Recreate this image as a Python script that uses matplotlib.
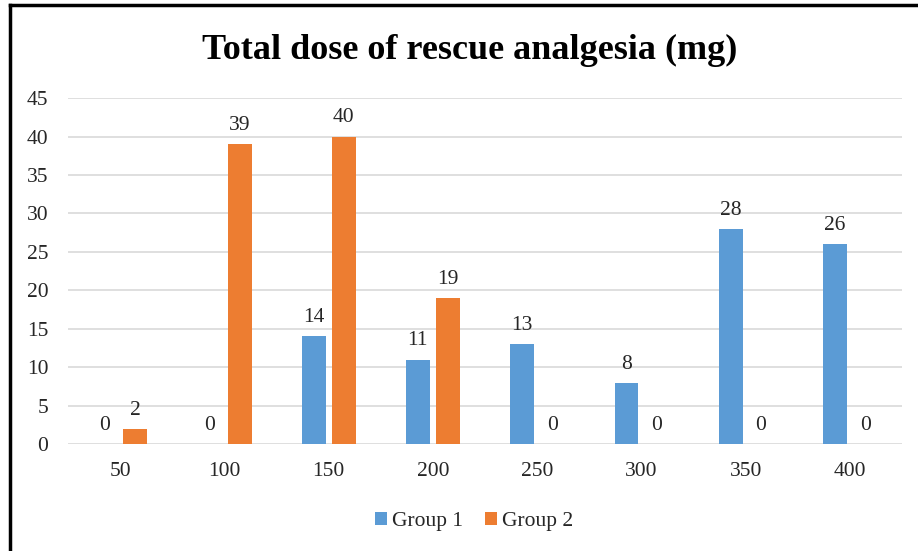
import numpy as np
import matplotlib
matplotlib.use('Agg')
import matplotlib.pyplot as plt
from matplotlib.lines import Line2D

# --- DATA ---
doses = ['50', '100', '150', '200', '250', '300', '350', '400']
group1 = [0, 0, 14, 11, 13, 8, 28, 26]
group2 = [2, 39, 40, 19, 0, 0, 0, 0]

plt.rcParams['font.family'] = ['Liberation Serif', 'DejaVu Serif']
FS = 15.5

fig = plt.figure(figsize=(9.18, 5.51), dpi=100)
ax = fig.add_axes([0.074, 0.194, 0.909, 0.628])

x = np.arange(len(doses))
w = 0.23
off = 0.145
b1 = ax.bar(x - off, group1, w, color='#5B9BD5', label='Group 1', zorder=3)
b2 = ax.bar(x + off, group2, w, color='#ED7D31', label='Group 2', zorder=3)

for bars in (b1, b2):
    ax.bar_label(bars, padding=6.5, fontsize=FS, color='#262626')

ax.set_xlim(-0.5, len(doses) - 0.5)
ax.set_ylim(0, 45)
ax.set_yticks(range(0, 50, 5))
ax.set_xticks(x)
ax.set_xticklabels(doses)
ax.tick_params(axis='both', length=0, labelsize=FS, colors='#262626')
ax.tick_params(axis='x', pad=13)
ax.tick_params(axis='y', pad=14)
ax.grid(axis='y', color='#D9D9D9', linewidth=1.2, zorder=0)
for s in ax.spines.values():
    s.set_visible(False)

fig.text(0.512, 0.908, 'Total dose of rescue analgesia (mg)', ha='center', va='center',
         fontsize=26, fontweight='bold', color='black')

ax.legend(loc='upper center', bbox_to_anchor=(0.487, -0.14), ncol=2, frameon=False,
          fontsize=FS, handlelength=0.55, handleheight=0.55, handletextpad=0.25,
          columnspacing=1.0, labelcolor='#262626')

# border lines (top and left)
fig.add_artist(Line2D([0.0105, 1.0], [0.9915, 0.9915], color='black', linewidth=2.5,
                      transform=fig.transFigure))
fig.add_artist(Line2D([0.0105, 0.0105], [0.0, 0.9915], color='black', linewidth=2.5,
                      transform=fig.transFigure))

fig.savefig('out.png', dpi=100)
